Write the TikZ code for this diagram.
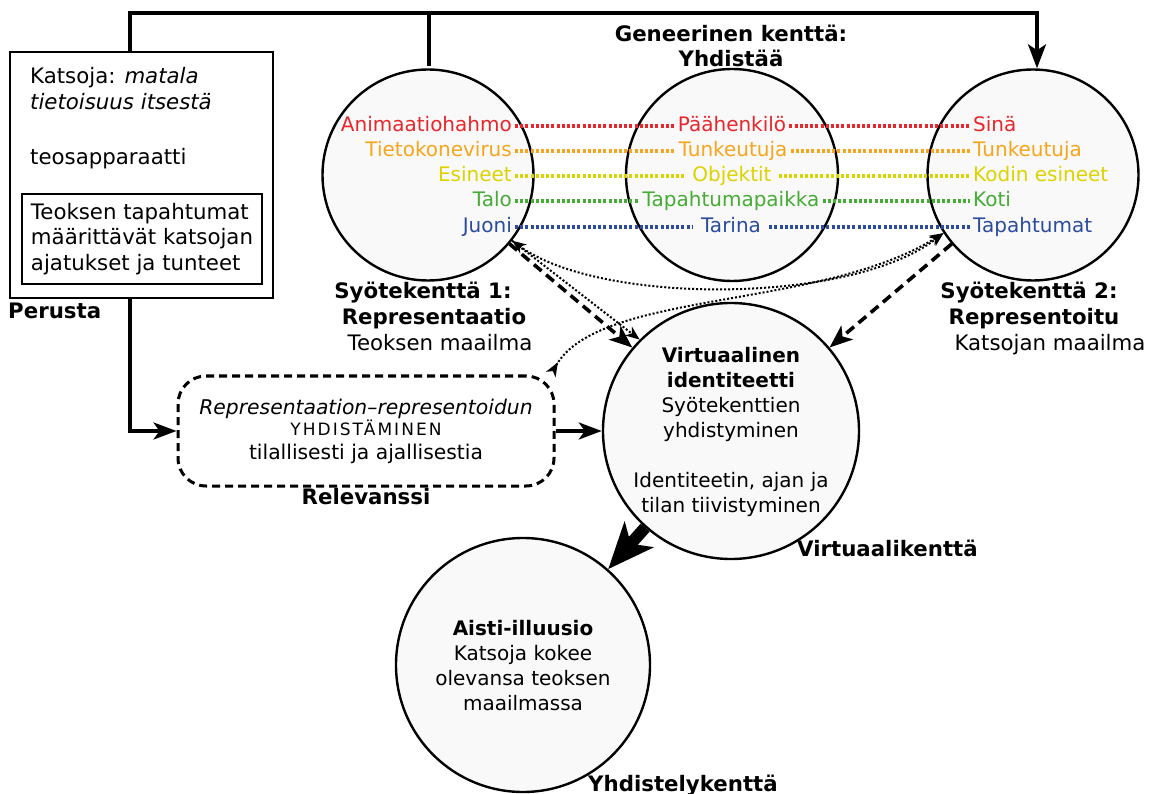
\documentclass[tikz,border=0pt]{standalone}
\usepackage{fontspec}
\setmainfont{DejaVu Sans}
\usetikzlibrary{arrows.meta}

\definecolor{rowred}{HTML}{E8262B}
\definecolor{roworange}{HTML}{F7A51C}
\definecolor{rowyellow}{HTML}{DCD300}
\definecolor{rowgreen}{HTML}{45AC34}
\definecolor{rowblue}{HTML}{2A4B9E}
\definecolor{circfill}{HTML}{F9F9F9}

\begin{document}
\begin{tikzpicture}[x=1pt,y=-1pt,
  every node/.style={font=\fontsize{20}{25}\selectfont, inner sep=0pt},
  field/.style={circle, draw, line width=2.4pt, fill=circfill, inner sep=0pt},
  heading/.style={font=\fontsize{21.3}{25.5}\selectfont\bfseries, align=center},
  label/.style={font=\fontsize{21.3}{25.5}\selectfont, align=center},
  body/.style={font=\fontsize{20}{25}\selectfont, align=center},
  frame/.style={draw, line width=2.6pt},
  link/.style={line width=3.2pt},
  dashlink/.style={line width=3.6pt, dash pattern=on 10pt off 6pt},
  dotlink/.style={line width=2pt, dash pattern=on 2pt off 2pt,
    >={Stealth[length=14pt,width=11pt,inset=4pt]}},
  rowtext/.style={text height=15pt, text depth=4pt, inner xsep=3pt, inner ysep=0pt},
  rowline/.style={line width=3.5pt, dash pattern=on 3pt off 2.2pt},
  solidtip/.style={-{Stealth[length=23pt,width=17pt,inset=6pt]}}
]
\useasboundingbox (0,0) rectangle (1157,794);

% ---- fields (circles) ----
\node[field, minimum size=211pt] (s1) at (428,175) {};
\node[field, minimum size=212pt] (gen) at (732,175) {};
\node[field, minimum size=211pt] (s2) at (1033,175) {};
\node[field, minimum size=256pt] (virt) at (731,431) {};
\node[field, minimum size=254pt] (aisti) at (523,665) {};

% ---- base box on the left ----
\node[frame, minimum width=263pt, minimum height=246pt] (outer) at (141.5,175) {};
\node[label, anchor=base west] (katsoja) at (30,84) {Katsoja: \textit{matala}};
\node[label, anchor=base west] (tietoisuus) at (30,110) {\textit{tietoisuus itsestä}};
\node[label, anchor=base west] (apparaatti) at (30,165) {teosapparaatti};
\node[frame, label, minimum width=240pt, minimum height=90pt, align=left] (events) at (142,239)
  {Teoksen tapahtumat\\määrittävät katsojan\\ajatukset ja tunteet};
\node[heading, anchor=base west] (perusta) at (8,319) {Perusta};

% ---- top connector ----
\coordinate (topL) at (130,13);
\coordinate (topM) at (429,13);
\coordinate (topR) at (1037,13);
\coordinate (s1top) at (429,66);
\draw[link, -{Stealth[length=24pt,width=18pt,inset=6pt]}]
  (outer.north -| topL) -- (topL) -- (topR) -- (s2.north -| topR);
\draw[link] (topM) -- (s1top);

% ---- field titles ----
\node[heading] (gentitle) at (731,46) {Geneerinen kenttä:\\Yhdistää};
\node[heading, anchor=base] (s1t1) at (423,299) {Syötekenttä 1:};
\node[heading, anchor=base] (s1t2) at (434,325) {Representaatio};
\node[label, anchor=base] (s1t3) at (440,351) {Teoksen maailma};
\node[heading, anchor=base] (s2t1) at (1029,299) {Syötekenttä 2:};
\node[heading, anchor=base] (s2t2) at (1034,325) {Representoitu};
\node[label, anchor=base] (s2t3) at (1050,351) {Katsojan maailma};

% ---- mapped rows ----
\node[rowtext, anchor=east, text=rowred]    (l1) at (515,126) {Animaatiohahmo};
\node[rowtext, anchor=east, text=roworange] (l2) at (515,151) {Tietokonevirus};
\node[rowtext, anchor=east, text=rowyellow] (l3) at (515,176) {Esineet};
\node[rowtext, anchor=east, text=rowgreen]  (l4) at (515,201) {Talo};
\node[rowtext, anchor=east, text=rowblue]   (l5) at (515,227) {Juoni};

\node[rowtext, text=rowred]    (m1) at (732,126) {Päähenkilö};
\node[rowtext, text=roworange] (m2) at (733,151) {Tunkeutuja};
\node[rowtext, inner xsep=7pt, text=rowyellow] (m3) at (732,176) {Objektit};
\node[rowtext, text=rowgreen]  (m4) at (731,201) {Tapahtumapaikka};
\node[rowtext, inner xsep=8pt, text=rowblue]   (m5) at (731,227) {Tarina};

\node[rowtext, anchor=west, text=rowred]    (r1) at (970,126) {Sinä};
\node[rowtext, anchor=west, text=roworange] (r2) at (970,151) {Tunkeutuja};
\node[rowtext, anchor=west, text=rowyellow] (r3) at (970,176) {Kodin esineet};
\node[rowtext, anchor=west, text=rowgreen]  (r4) at (970,201) {Koti};
\node[rowtext, anchor=west, text=rowblue]   (r5) at (970,227) {Tapahtumat};

\draw[rowline, rowred]    (l1) -- (m1) -- (r1);
\draw[rowline, roworange] (l2) -- (m2) -- (r2);
\draw[rowline, rowyellow] (l3) -- (m3) -- (r3);
\draw[rowline, rowgreen]  (l4) -- (m4) -- (r4);
\draw[rowline, rowblue]   (l5) -- (m5) -- (r5);

% ---- relevance box ----
\node[draw, line width=3pt, dash pattern=on 8pt off 5pt, rounded corners=28pt,
      minimum width=376pt, minimum height=110pt, align=center,
      font=\fontsize{20.3}{24}\selectfont] (relev) at (366,431)
  {\textit{Representaation–representoidun}\\[-3pt]
   {\fontsize{17}{20}\selectfont\addfontfeature{LetterSpace=12}YHDISTÄMINEN}\\
   tilallisesti ja ajallisestia};
\node[heading, anchor=base] (relevt) at (366,504) {Relevanssi};

\draw[link, solidtip] (outer.south -| topL) |- (relev.west);
\draw[link, solidtip] (relev) -- (virt);

% ---- virtual field ----
\node[body] (virttext) at (731,432)
  {\textbf{Virtuaalinen}\\\textbf{identiteetti}\\Syötekenttien\\yhdistyminen\\[25pt]
   Identiteetin, ajan ja\\tilan tiivistyminen};
\node[heading, anchor=base west] (virtt) at (797,556) {Virtuaalikenttä};

% ---- links between the input fields and the virtual field ----
\draw[dashlink, -{Stealth[length=23pt,width=18pt,inset=6pt]}] (s1) -- (virt);
\draw[dashlink, -{Stealth[length=23pt,width=18pt,inset=6pt]}] (s2) -- (virt);
\draw[dotlink, <->] (s1.-38) .. controls (600,305) and (850,305) .. (s2.-147);
\draw[dotlink, {Stealth[length=14pt,width=11pt,inset=4pt,reversed]}->]
  (relev.17) .. controls (600,290) and (820,310) .. (s2.-147);
\draw[dotlink, ->] (s1.-38) -- (virt.135);

% ---- blending field ----
\draw[line width=12pt, -{Stealth[length=46pt,width=38pt,inset=12pt]}] (virt) -- (aisti);
\node[body] (aistitext) at (523,666)
  {\textbf{Aisti-illuusio}\\Katsoja kokee\\olevansa teoksen\\maailmassa};
\node[heading, anchor=base west] (aistit) at (588,791) {Yhdistelykenttä};
\end{tikzpicture}
\end{document}
